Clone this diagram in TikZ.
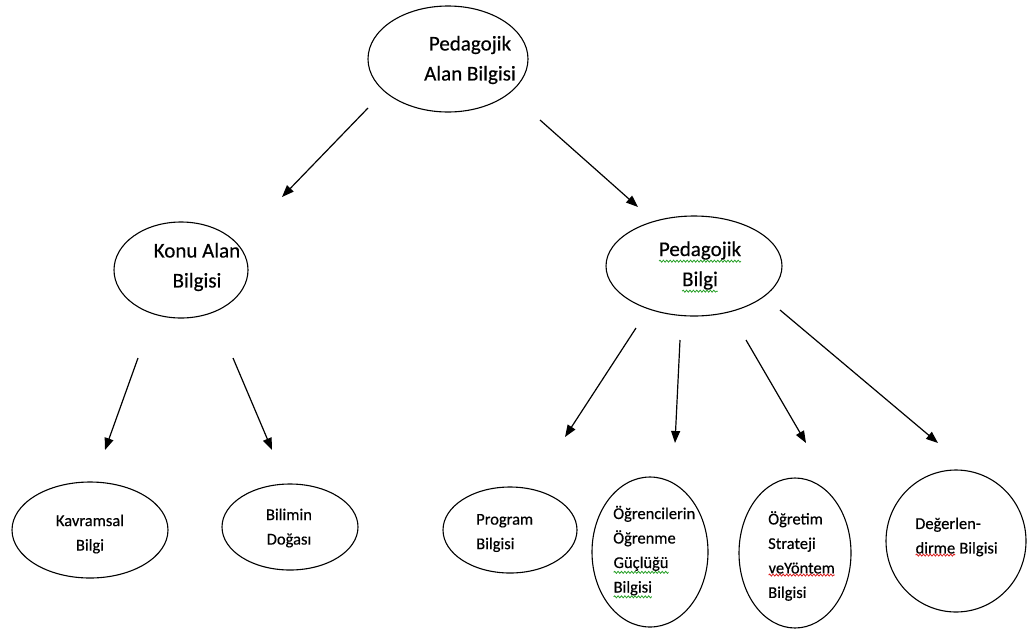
\documentclass[tikz,border=0pt]{standalone}
\usepackage{fontspec}
\setmainfont{Carlito}[FakeBold=0.4]
\usetikzlibrary{shapes.geometric,arrows.meta,decorations.pathmorphing}

\definecolor{spellgreen}{RGB}{40,160,40}
\definecolor{spellred}{RGB}{220,30,30}

\tikzset{
  bubble/.style={draw, ellipse, line width=1.1pt, inner sep=0},
  biglabel/.style={font=\fontsize{21}{30}\selectfont, align=center, inner sep=0},
  smalllabel/.style={font=\fontsize{16.5}{24.5}\selectfont, align=left, inner sep=0, anchor=west},
  link/.style={line width=1.2pt, -{Triangle[length=12pt,width=9pt]}},
  squiggle/.style={line width=0.8pt, decorate,
    decoration={snake, amplitude=1pt, segment length=3.4pt}},
}

% word with a wavy proofing underline
\newcommand\spellmark[2]{\tikz[baseline=(w.base)]{%
  \node[inner sep=0, outer sep=0] (w) {#2};
  \draw[squiggle, #1] ([yshift=-1.5pt]w.south west) -- ([yshift=-1.5pt]w.south east);}}

\begin{document}
\begin{tikzpicture}[x=1pt, y=-1pt]
\useasboundingbox (0,0) rectangle (1032,635);

% ellipses
\node[bubble, minimum width=160pt, minimum height=106pt] (pab) at (448,59) {};
\node[bubble, minimum width=134pt, minimum height=96pt]  (kab) at (181,270) {};
\node[bubble, minimum width=176pt, minimum height=100pt] (pb)  at (694,266) {};
\node[bubble, minimum width=156pt, minimum height=96pt]  (kb)  at (90,530) {};
\node[bubble, minimum width=136pt, minimum height=86pt]  (bd)  at (290,527) {};
\node[bubble, minimum width=134pt, minimum height=86pt]  (prg) at (510,530) {};
\node[bubble, minimum width=116pt, minimum height=150pt] (ogr) at (650,552) {};
\node[bubble, minimum width=112pt, minimum height=150pt] (ost) at (795,553) {};
\node[bubble, minimum width=140pt, minimum height=142pt] (deg) at (956,541) {};

% labels
\node[biglabel] (tpab) at (470,60) {Pedagojik\\Alan Bilgisi};
\node[biglabel] (tkab) at (197,267) {Konu Alan\\Bilgisi};
\node[biglabel] (tpb)  at (700,267) {\spellmark{spellgreen}{Pedagojik}\\\spellmark{spellgreen}{Bilgi}};
\node[smalllabel, align=center, anchor=center] (tkb) at (90,534) {Kavramsal\\Bilgi};
\node[smalllabel, align=center, anchor=center] (tbd) at (289,528) {Bilimin\\Doğası};
\node[smalllabel] (tprg) at (476,533) {Program\\Bilgisi};
\node[smalllabel] (togr) at (613,552) {Öğrencilerin\\Öğrenme\\\spellmark{spellgreen}{Güçlüğü}\\\spellmark{spellgreen}{Bilgisi}};
\node[smalllabel] (tost) at (768,556) {Öğretim\\Strateji\\\spellmark{spellred}{veYöntem}\\Bilgisi};
\node[smalllabel] (tdeg) at (915,537) {Değerlen-\\\spellmark{spellred}{dirme} Bilgisi};

% arrow end points
\coordinate (a1s) at (368,108); \coordinate (a1e) at (282,197);
\coordinate (a2s) at (540,120); \coordinate (a2e) at (638,207);
\coordinate (a3s) at (138,358); \coordinate (a3e) at (105,450);
\coordinate (a4s) at (233,358); \coordinate (a4e) at (272,450);
\coordinate (a5s) at (636,328); \coordinate (a5e) at (565,437);
\coordinate (a6s) at (680,340); \coordinate (a6e) at (675,443);
\coordinate (a7s) at (746,340); \coordinate (a7e) at (806,443);
\coordinate (a8s) at (780,310); \coordinate (a8e) at (938,443);

\draw[link] (a1s) -- (a1e);
\draw[link] (a2s) -- (a2e);
\draw[link] (a3s) -- (a3e);
\draw[link] (a4s) -- (a4e);
\draw[link] (a5s) -- (a5e);
\draw[link] (a6s) -- (a6e);
\draw[link] (a7s) -- (a7e);
\draw[link] (a8s) -- (a8e);
\end{tikzpicture}
\end{document}
